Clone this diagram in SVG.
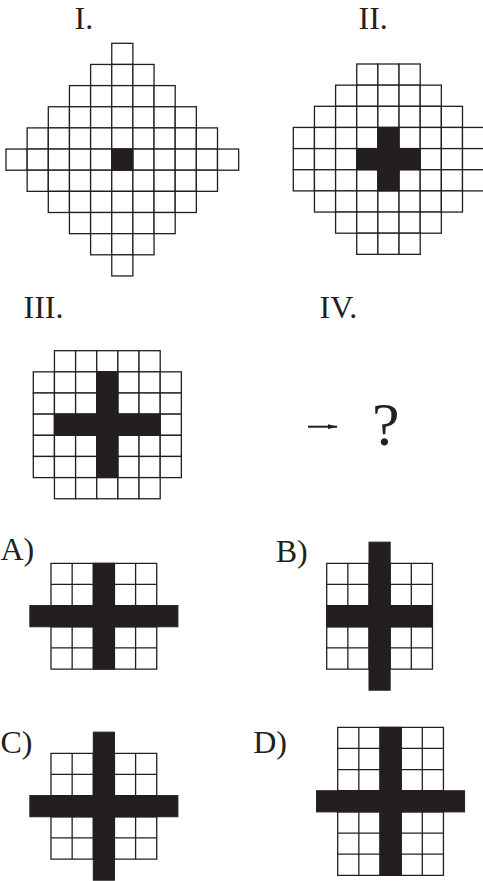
<svg xmlns="http://www.w3.org/2000/svg" xmlns:xlink="http://www.w3.org/1999/xlink" width="483" height="881" viewBox="0 0 483 881">
<style>
.cell{fill:#fff;stroke:#231f20;stroke-width:1.3}
.grid{fill:#fff;stroke:#231f20;stroke-width:1.3}
.blk{fill:#231f20;stroke:#231f20;stroke-width:1}
.lbl{font-family:"Liberation Serif","Times New Roman",serif;font-size:32px;fill:#231f20}
</style>
<defs>
<rect id="c" width="21.15" height="21.15" class="cell"/>
<path id="g55" class="grid" d="M0 0h105.75v105.75H0z M21.15 0v105.75 M42.3 0v105.75 M63.45 0v105.75 M84.6 0v105.75 M0 21.15h105.75 M0 42.3h105.75 M0 63.45h105.75 M0 84.6h105.75"/>
<path id="g57" class="grid" d="M0 0h105.75v148.05H0z M21.15 0v148.05 M42.3 0v148.05 M63.45 0v148.05 M84.6 0v148.05 M0 21.15h105.75 M0 42.3h105.75 M0 63.45h105.75 M0 84.6h105.75 M0 105.75h105.75 M0 126.9h105.75"/>
<marker id="ah" markerWidth="10" markerHeight="6" refX="9" refY="3" orient="auto" markerUnits="userSpaceOnUse">
<path d="M0 0.6L10 3L0 5.4z" fill="#231f20"/>
</marker>
</defs>

<g id="fig1" transform="translate(6,43.3)">
<text class="lbl" x="68.5" y="-14.3">I.</text>
<g><use href="#c" x="105.75" y="0"/></g>
<g transform="translate(0,21.15)"><use href="#c" x="84.6"/><use href="#c" x="105.75"/><use href="#c" x="126.9"/></g>
<g transform="translate(0,42.3)"><use href="#c" x="63.45"/><use href="#c" x="84.6"/><use href="#c" x="105.75"/><use href="#c" x="126.9"/><use href="#c" x="148.05"/></g>
<g transform="translate(0,63.45)"><use href="#c" x="42.3"/><use href="#c" x="63.45"/><use href="#c" x="84.6"/><use href="#c" x="105.75"/><use href="#c" x="126.9"/><use href="#c" x="148.05"/><use href="#c" x="169.2"/></g>
<g transform="translate(0,84.6)"><use href="#c" x="21.15"/><use href="#c" x="42.3"/><use href="#c" x="63.45"/><use href="#c" x="84.6"/><use href="#c" x="105.75"/><use href="#c" x="126.9"/><use href="#c" x="148.05"/><use href="#c" x="169.2"/><use href="#c" x="190.35"/></g>
<g transform="translate(0,105.75)"><use href="#c" x="0"/><use href="#c" x="21.15"/><use href="#c" x="42.3"/><use href="#c" x="63.45"/><use href="#c" x="84.6"/><use href="#c" x="105.75"/><use href="#c" x="126.9"/><use href="#c" x="148.05"/><use href="#c" x="169.2"/><use href="#c" x="190.35"/><use href="#c" x="211.5"/></g>
<g transform="translate(0,126.9)"><use href="#c" x="21.15"/><use href="#c" x="42.3"/><use href="#c" x="63.45"/><use href="#c" x="84.6"/><use href="#c" x="105.75"/><use href="#c" x="126.9"/><use href="#c" x="148.05"/><use href="#c" x="169.2"/><use href="#c" x="190.35"/></g>
<g transform="translate(0,148.05)"><use href="#c" x="42.3"/><use href="#c" x="63.45"/><use href="#c" x="84.6"/><use href="#c" x="105.75"/><use href="#c" x="126.9"/><use href="#c" x="148.05"/><use href="#c" x="169.2"/></g>
<g transform="translate(0,169.2)"><use href="#c" x="63.45"/><use href="#c" x="84.6"/><use href="#c" x="105.75"/><use href="#c" x="126.9"/><use href="#c" x="148.05"/></g>
<g transform="translate(0,190.35)"><use href="#c" x="84.6"/><use href="#c" x="105.75"/><use href="#c" x="126.9"/></g>
<g transform="translate(0,211.5)"><use href="#c" x="105.75"/></g>
<rect class="blk" x="105.75" y="105.75" width="21.15" height="21.15"/>
</g>

<g id="fig2" transform="translate(293.3,64)">
<text class="lbl" x="65.2" y="-35">II.</text>
<g><use href="#c" x="63.45"/><use href="#c" x="84.6"/><use href="#c" x="105.75"/></g>
<g transform="translate(0,21.15)"><use href="#c" x="42.3"/><use href="#c" x="63.45"/><use href="#c" x="84.6"/><use href="#c" x="105.75"/><use href="#c" x="126.9"/></g>
<g transform="translate(0,42.3)"><use href="#c" x="21.15"/><use href="#c" x="42.3"/><use href="#c" x="63.45"/><use href="#c" x="84.6"/><use href="#c" x="105.75"/><use href="#c" x="126.9"/><use href="#c" x="148.05"/></g>
<g transform="translate(0,63.45)"><use href="#c" x="0"/><use href="#c" x="21.15"/><use href="#c" x="42.3"/><use href="#c" x="63.45"/><use href="#c" x="84.6"/><use href="#c" x="105.75"/><use href="#c" x="126.9"/><use href="#c" x="148.05"/><use href="#c" x="169.2"/></g>
<g transform="translate(0,84.6)"><use href="#c" x="0"/><use href="#c" x="21.15"/><use href="#c" x="42.3"/><use href="#c" x="63.45"/><use href="#c" x="84.6"/><use href="#c" x="105.75"/><use href="#c" x="126.9"/><use href="#c" x="148.05"/><use href="#c" x="169.2"/></g>
<g transform="translate(0,105.75)"><use href="#c" x="0"/><use href="#c" x="21.15"/><use href="#c" x="42.3"/><use href="#c" x="63.45"/><use href="#c" x="84.6"/><use href="#c" x="105.75"/><use href="#c" x="126.9"/><use href="#c" x="148.05"/><use href="#c" x="169.2"/></g>
<g transform="translate(0,126.9)"><use href="#c" x="21.15"/><use href="#c" x="42.3"/><use href="#c" x="63.45"/><use href="#c" x="84.6"/><use href="#c" x="105.75"/><use href="#c" x="126.9"/><use href="#c" x="148.05"/></g>
<g transform="translate(0,148.05)"><use href="#c" x="42.3"/><use href="#c" x="63.45"/><use href="#c" x="84.6"/><use href="#c" x="105.75"/><use href="#c" x="126.9"/></g>
<g transform="translate(0,169.2)"><use href="#c" x="63.45"/><use href="#c" x="84.6"/><use href="#c" x="105.75"/></g>
<path class="blk" d="M84.6 63.45h21.15v21.15h21.15v21.15h-21.15v21.15h-21.15v-21.15h-21.15v-21.15h21.15z"/>
</g>

<g id="fig3" transform="translate(33.3,350.7)">
<text class="lbl" x="-9.8" y="-32.4">III.</text>
<g><use href="#c" x="21.15"/><use href="#c" x="42.3"/><use href="#c" x="63.45"/><use href="#c" x="84.6"/><use href="#c" x="105.75"/></g>
<g transform="translate(0,21.15)"><use href="#c" x="0"/><use href="#c" x="21.15"/><use href="#c" x="42.3"/><use href="#c" x="63.45"/><use href="#c" x="84.6"/><use href="#c" x="105.75"/><use href="#c" x="126.9"/></g>
<g transform="translate(0,42.3)"><use href="#c" x="0"/><use href="#c" x="21.15"/><use href="#c" x="42.3"/><use href="#c" x="63.45"/><use href="#c" x="84.6"/><use href="#c" x="105.75"/><use href="#c" x="126.9"/></g>
<g transform="translate(0,63.45)"><use href="#c" x="0"/><use href="#c" x="21.15"/><use href="#c" x="42.3"/><use href="#c" x="63.45"/><use href="#c" x="84.6"/><use href="#c" x="105.75"/><use href="#c" x="126.9"/></g>
<g transform="translate(0,84.6)"><use href="#c" x="0"/><use href="#c" x="21.15"/><use href="#c" x="42.3"/><use href="#c" x="63.45"/><use href="#c" x="84.6"/><use href="#c" x="105.75"/><use href="#c" x="126.9"/></g>
<g transform="translate(0,105.75)"><use href="#c" x="0"/><use href="#c" x="21.15"/><use href="#c" x="42.3"/><use href="#c" x="63.45"/><use href="#c" x="84.6"/><use href="#c" x="105.75"/><use href="#c" x="126.9"/></g>
<g transform="translate(0,126.9)"><use href="#c" x="21.15"/><use href="#c" x="42.3"/><use href="#c" x="63.45"/><use href="#c" x="84.6"/><use href="#c" x="105.75"/></g>
<path class="blk" d="M63.45 21.15h21.15v42.3h42.3v21.15h-42.3v42.3h-21.15v-42.3h-42.3v-21.15h42.3z"/>
</g>

<g id="fig4">
<text class="lbl" x="319.5" y="318.3">IV.</text>
<g id="connectors">
<line x1="308" y1="426.7" x2="337" y2="426.7" stroke="#231f20" stroke-width="2" marker-end="url(#ah)"/>
</g>
<text x="372" y="445" style="font-family:'Liberation Serif','Times New Roman',serif;font-size:62px;fill:#231f20">?</text>
</g>

<g id="optA" transform="translate(51,563.3)">
<text class="lbl" x="-50.5" y="-3.3">A)</text>
<use href="#g55"/>
<rect class="blk" x="42.3" y="0" width="21.15" height="105.75"/>
<rect class="blk" x="-21.15" y="42.3" width="148.05" height="21.15"/>
</g>

<g id="optB" transform="translate(326.7,563.3)">
<text class="lbl" x="-51" y="-1.3">B)</text>
<use href="#g55"/>
<rect class="blk" x="42.3" y="-21.15" width="21.15" height="148.05"/>
<rect class="blk" x="0" y="42.3" width="105.75" height="21.15"/>
</g>

<g id="optC" transform="translate(51,753.3)">
<text class="lbl" x="-50.5" y="0">C)</text>
<use href="#g55"/>
<rect class="blk" x="42.3" y="-21.15" width="21.15" height="148.05"/>
<rect class="blk" x="-21.15" y="42.3" width="148.05" height="21.15"/>
</g>

<g id="optD" transform="translate(337.7,727.3)">
<text class="lbl" x="-84.5" y="25.7">D)</text>
<use href="#g57"/>
<rect class="blk" x="42.3" y="0" width="21.15" height="148.05"/>
<rect class="blk" x="-21.15" y="63.45" width="148.05" height="21.15"/>
</g>
</svg>
